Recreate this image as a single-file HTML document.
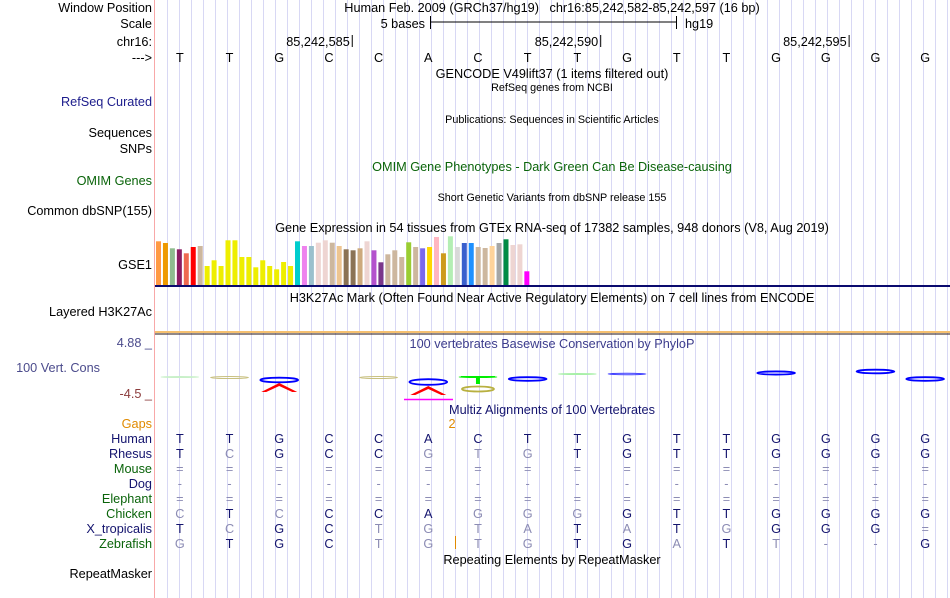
<!DOCTYPE html>
<html><head><meta charset="utf-8"><style>
html,body{margin:0;padding:0;background:#fff;}
svg{display:block;font-family:"Liberation Sans",sans-serif;}
</style></head><body>
<svg id="svg" width="950" height="598" viewBox="0 0 950 598">
<g id="grid"></g>
<line x1="154.5" y1="0" x2="154.5" y2="598" stroke="#f8a8a8" stroke-width="1"/>
<g id="labels" font-size="12.7" text-anchor="end">
<text x="152" y="12" fill="#000">Window Position</text>
<text x="152" y="28" fill="#000">Scale</text>
<text x="152" y="46" fill="#000">chr16:</text>
<text x="152" y="62" fill="#000">---&gt;</text>
<text x="152" y="106" fill="#1c1c8c">RefSeq Curated</text>
<text x="152" y="137" fill="#000">Sequences</text>
<text x="152" y="153" fill="#000">SNPs</text>
<text x="152" y="185" fill="#0a640a">OMIM Genes</text>
<text x="152" y="215" fill="#000">Common dbSNP(155)</text>
<text x="152" y="269" fill="#000">GSE1</text>
<text x="152" y="316" fill="#000">Layered H3K27Ac</text>
<text x="152" y="347" fill="#4b4b8c">4.88 _</text>
<text x="100" y="372" fill="#4b4b8c">100 Vert. Cons</text>
<text x="152" y="398" fill="#8c3c3c">-4.5 _</text>
<text x="152" y="428" fill="#e08a00">Gaps</text>
<text x="152" y="578" fill="#000">RepeatMasker</text>
</g>
<g id="specLabels" font-size="12.7" text-anchor="end"></g>
<g font-size="12.7" text-anchor="middle">
<text x="552" y="12" xml:space="preserve">Human Feb. 2009 (GRCh37/hg19)   chr16:85,242,582-85,242,597 (16 bp)</text>
<text x="552" y="78">GENCODE V49lift37 (1 items filtered out)</text>
<text x="552" y="91" font-size="10.8">RefSeq genes from NCBI</text>
<text x="552" y="123" font-size="10.8">Publications: Sequences in Scientific Articles</text>
<text x="552" y="171" fill="#0a640a">OMIM Gene Phenotypes - Dark Green Can Be Disease-causing</text>
<text x="552" y="201" font-size="10.8">Short Genetic Variants from dbSNP release 155</text>
<text x="552" y="232">Gene Expression in 54 tissues from GTEx RNA-seq of 17382 samples, 948 donors (V8, Aug 2019)</text>
<text x="552" y="302">H3K27Ac Mark (Often Found Near Active Regulatory Elements) on 7 cell lines from ENCODE</text>
<text x="552" y="348" fill="#3c3c8c">100 vertebrates Basewise Conservation by PhyloP</text>
<text x="552" y="414" fill="#14146e">Multiz Alignments of 100 Vertebrates</text>
<text x="452" y="428" fill="#e08a00">2</text>
<text x="552" y="564">Repeating Elements by RepeatMasker</text>
</g>
<g>
<text x="425" y="28" font-size="12.7" text-anchor="end">5 bases</text>
<line x1="430" y1="22" x2="677" y2="22" stroke="#000"/>
<line x1="430.5" y1="16" x2="430.5" y2="29" stroke="#000"/>
<line x1="676.5" y1="16" x2="676.5" y2="29" stroke="#000"/>
<text x="685" y="28" font-size="12.7">hg19</text>
</g>
<g id="pos" font-size="12.7" text-anchor="end"></g>
<g id="bases" font-size="12.7" text-anchor="middle"></g>
<g id="gtex"></g>
<line x1="155" y1="286" x2="950" y2="286" stroke="#0a0a6e" stroke-width="2"/>
<line x1="155" y1="332" x2="950" y2="332" stroke="#f5c070" stroke-width="2"/>
<line x1="155" y1="334" x2="950" y2="334" stroke="#201010" stroke-width="1"/>
<g id="logo"></g>
<line x1="404" y1="399.5" x2="453" y2="399.5" stroke="#ff00ff" stroke-width="1.5"/>
<line x1="455.5" y1="536" x2="455.5" y2="549" stroke="#e08a00"/>
<g id="aln" font-size="12.7" text-anchor="middle"></g>
</svg>
<script>
const NS='http://www.w3.org/2000/svg';
const X0=155, W=795, N=16, BW=W/N;
function cx(i){return X0+BW*(i+0.5);}
function mk(tag,attrs,parent,text){const e=document.createElementNS(NS,tag);for(const k in attrs)e.setAttribute(k,attrs[k]);if(text!==undefined)e.textContent=text;parent.appendChild(e);return e;}

const bases=['T','T','G','C','C','A','C','T','T','G','T','T','G','G','G','G'];
const species=['Human','Rhesus','Mouse','Dog','Elephant','Chicken','X_tropicalis','Zebrafish'];
const speciesColors=['#14146e','#14146e','#0a640a','#14146e','#0a640a','#0a640a','#14146e','#0a640a'];
const rhesus=['T','C','G','C','C','G','T','G','T','G','T','T','G','G','G','G'];
const mouse=['=','=','=','=','=','=','=','=','=','=','=','=','=','=','=','='];
const dog=['-','-','-','-','-','-','-','-','-','-','-','-','-','-','-','-'];
const elephant=['=','=','=','=','=','=','=','=','=','=','=','=','=','=','=','='];
const chicken=['C','T','C','C','C','A','G','G','G','G','T','T','G','G','G','G'];
const xtrop=['T','C','G','C','T','G','T','A','T','A','T','G','G','G','G','='];
const zebrafish=['G','T','G','C','T','G','T','G','T','G','A','T','T','-','-','G'];
const alignRows=[bases,rhesus,mouse,dog,elephant,chicken,xtrop,zebrafish];

const positions=[85242585,85242590,85242595];
const startPos=85242582;

const gtexHeights=[43.7,42,36.7,35.7,31.7,38,39,19,24.7,19,44.7,44.7,28,28,17.7,24.7,19,15.7,23,19,43.7,39,39,42.3,44.7,42.3,39,35.7,34.7,36.7,43.7,34.7,22.7,30.7,34.7,28,42.7,38,36.7,38,48,31.7,48.7,38,42,42,38,37,39,42,45.7,40,40.7,13.7];
const gtexColors=['#ff9944','#ee9900','#8fbc8f','#8b1c62','#ee6a50','#ff0000','#cdb79e','#eeee00','#eeee00','#eeee00','#eeee00','#eeee00','#eeee00','#eeee00','#eeee00','#eeee00','#eeee00','#eeee00','#eeee00','#eeee00','#00cdcd','#ee82ee','#9ac0cd','#eed5d2','#eed5d2','#cdb79e','#eec591','#8b7355','#8b7355','#cdaa7d','#eed5d2','#b452cd','#7a378b','#cdb79e','#cdb79e','#cdb79e','#9acd32','#cdb79e','#7b68ee','#ffd700','#ffb6c1','#cd9b1d','#b4eeb4','#d9d9d9','#3a5fcd','#1e90ff','#cdb79e','#cdb79e','#ffd39b','#a6a6a6','#008b45','#eed5d2','#eed5d2','#ff00ff'];

const grid=document.getElementById('grid');
for(let x=155.5+12;x<950;x+=12){
  const l=mk('line',{x1:x,y1:0,x2:x,y2:598,stroke:'#d8d8f4','stroke-width':1},grid);
  
  
}
const pos=document.getElementById('pos');
positions.forEach(p=>{
  const i=p-startPos;
  const x=X0+BW*(i+1)-2;
  const t=mk('text',{x:x-2,y:46},pos,p.toLocaleString('en-US'));
  
  
  const l=mk('line',{x1:x+0.5,y1:35,x2:x+0.5,y2:47,stroke:'#000'},pos);
  
  
});
const bg=document.getElementById('bases');
bases.forEach((b,i)=>{
  const t=mk('text',{x:cx(i),y:62},bg,b);
  
  
});
const gtex=document.getElementById('gtex');
const gBase=285, gStep=6.95, gW=5;
gtexHeights.forEach((h,i)=>{
  const r=mk('rect',{x:156+i*gStep,y:gBase-h,width:gW,height:h,fill:gtexColors[i]},gtex);
  
  
});
const sl=document.getElementById('specLabels');
const aln=document.getElementById('aln');
species.forEach((s,r)=>{
  const y=443+r*15;
  const t=mk('text',{x:152,y:y,fill:speciesColors[r]},sl,s);
  
  
  alignRows[r].forEach((b,i)=>{
    const match=(r===0)||(b===bases[i]);
    const light=!match||b==='='||b==='-';
    const tt=mk('text',{x:cx(i),y:y,fill:light?'#8c8cb4':'#14146e'},aln,b);
    
    
  });
});
// conservation logo (approximate glyph shapes)
const logoCols=[0,1,2,4,5,6,7,8,9,12,14,15];
const logoY=[377,377.5,380,377.5,382,377,379,374,374,373,371.5,379];
const logoColors=['#c8f0c8','#c8c080','#0000ff','#c8c080','#0000ff','#00ee00','#0000ff','#a8f0a8','#4040ff','#0000ff','#0000ff','#0000ff'];
const logoH=[0.5,1.5,4,1.5,5,0.5,3,0.5,0.8,2.5,3,3];
const lg=document.getElementById('logo');
logoCols.forEach((c,k)=>{
  const x=cx(c), y=logoY[k], h=logoH[k];
  const e=mk('ellipse',{cx:x,cy:y,rx:BW*0.38,ry:h/2+0.3,fill:'none',stroke:logoColors[k],'stroke-width':h>2?1.8:1},lg);
  
  
});
[[2,388],[5,391]].forEach(([c,y])=>{
  const x=cx(c);
  const p=mk('polygon',{points:`${x-18},${y+4} ${x},${y-5} ${x+18},${y+4} ${x+13},${y+4} ${x},${y-2} ${x-13},${y+4}`,fill:'#ff0000'},lg);
  
  
});
{const x=cx(6);
 const e=mk('ellipse',{cx:x,cy:389,rx:16,ry:2.5,fill:'none',stroke:'#b8b040','stroke-width':1.8},lg);
 
 
 const t=mk('rect',{x:x-17,y:376,width:34,height:1.5,fill:'#00ee00'},lg);
 
 
 const t2=mk('rect',{x:x-2,y:376,width:4,height:8,fill:'#00ee00'},lg);
 
 
}
</script>
</body></html>
